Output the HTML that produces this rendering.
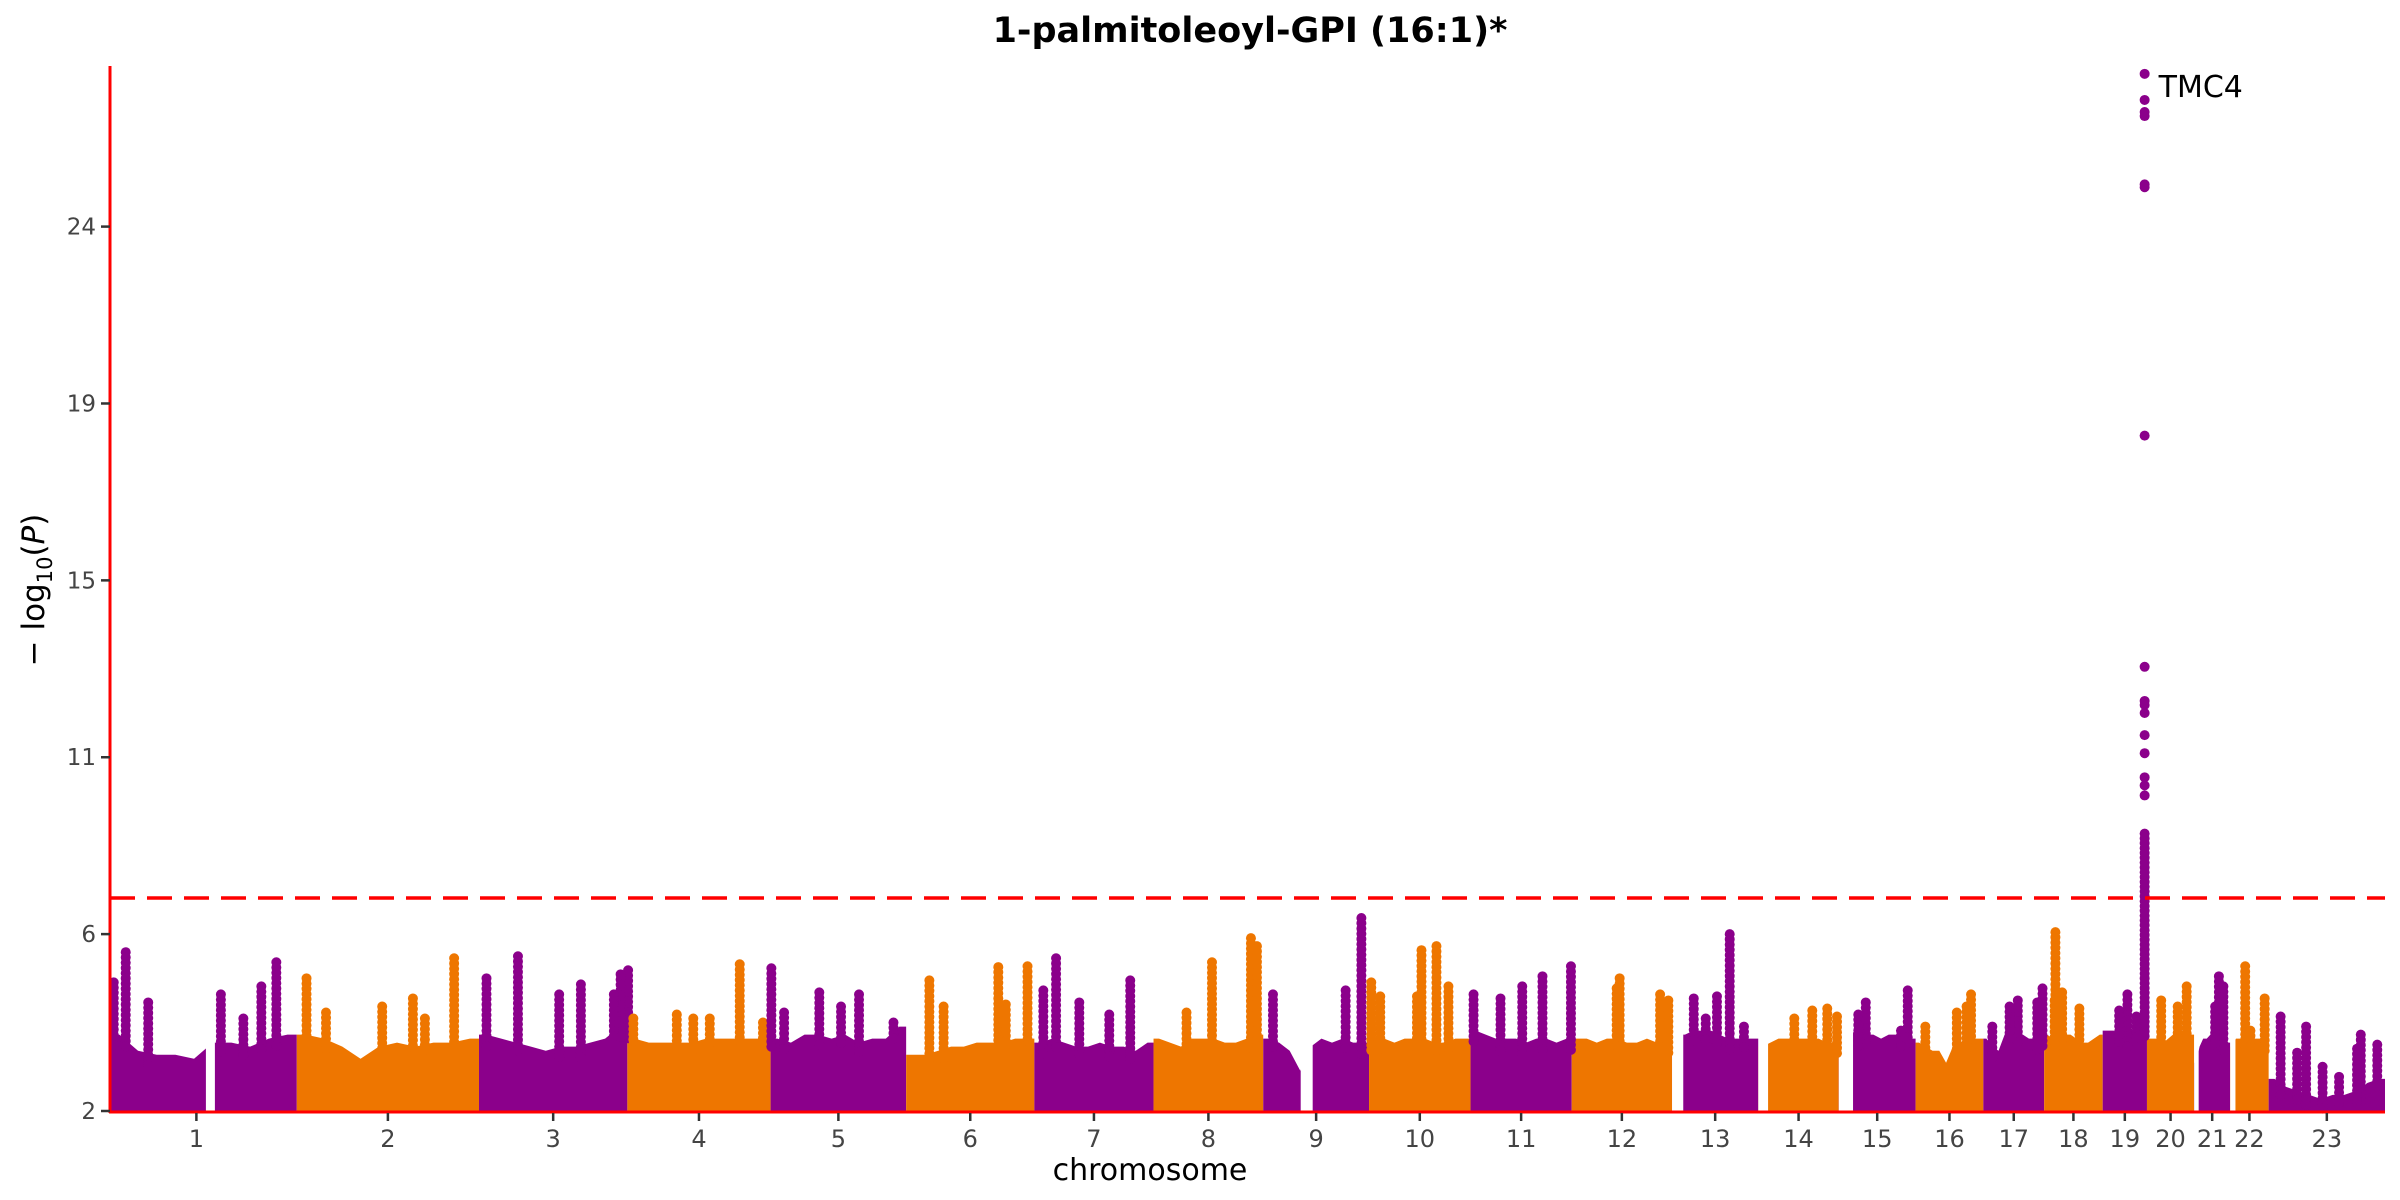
<!DOCTYPE html>
<html><head><meta charset="utf-8"><style>
html,body{margin:0;padding:0;background:#fff;}
svg{display:block;font-family:"DejaVu Sans","Liberation Sans",sans-serif;}
</style></head><body>
<svg id="chart" width="2400" height="1200" viewBox="0 0 2400 1200" xmlns="http://www.w3.org/2000/svg">
<text x="1250" y="42" font-size="35" font-weight="bold" text-anchor="middle" fill="#000">1-palmitoleoyl-GPI (16:1)*</text>
<g id="marks"></g>
<g id="axes"></g>
<text x="1150" y="1180" font-size="30" text-anchor="middle" fill="#000">chromosome</text>
<text transform="translate(44,590) rotate(-90)" font-size="31" text-anchor="middle" fill="#000">− log<tspan font-size="21" dy="8">10</tspan><tspan dy="-8">(</tspan><tspan font-style="italic">P</tspan>)</text>
</svg>
<script>
const chromLabels=["1","2","3","4","5","6","7","8","9","10","11","12","13","14","15","16","17","18","19","20","21","22","23"];
const chromLengths=[249.3,243.2,198.0,191.2,180.9,171.1,159.1,146.4,141.2,135.5,135.0,133.9,115.2,107.4,102.5,90.4,81.2,78.1,59.1,63.0,48.1,51.3,155.3];
const yTicks=[2,6.4,10.8,15.2,19.6,24];
const yTickLabels=["2","6","11","15","19","24"];
const threshold=7.3;
// bulk (dense) top level per chromosome in 10 bins
const bulkLevels=[
[3.9,3.5,3.4,3.4,3.3,3.7,3.7,3.6,3.8,3.9],
[3.9,3.8,3.6,3.3,3.6,3.7,3.6,3.7,3.7,3.8],
[3.9,3.8,3.7,3.6,3.5,3.6,3.6,3.7,3.8,4.1],
[3.8,3.7,3.7,3.7,3.7,3.8,3.8,3.8,3.8,3.8],
[3.8,3.7,3.9,3.9,3.8,3.9,3.7,3.8,3.8,4.1],
[3.4,3.4,3.5,3.6,3.6,3.7,3.7,3.7,3.8,3.8],
[3.7,3.8,3.7,3.6,3.6,3.7,3.6,3.6,3.5,3.7],
[3.8,3.7,3.6,3.8,3.8,3.8,3.7,3.7,3.8,3.9],
[3.8,3.7,3.5,3.0,3.6,3.8,3.7,3.8,3.7,3.7],
[3.8,3.8,3.7,3.8,3.8,3.8,3.7,3.7,3.8,3.8],
[4.0,3.9,3.8,3.8,3.8,3.7,3.8,3.8,3.7,3.8],
[3.8,3.8,3.7,3.8,3.8,3.7,3.7,3.8,3.7,3.7],
[3.9,3.9,4.0,4.0,4.0,3.9,3.8,3.8,3.8,3.8],
[3.6,3.7,3.8,3.8,3.8,3.8,3.8,3.8,3.7,3.7],
[4.0,4.0,3.9,3.9,3.9,3.8,3.9,3.9,3.9,3.8],
[3.7,3.6,3.5,3.5,3.2,3.6,3.7,3.8,3.8,3.8],
[3.8,3.6,3.5,3.9,4.0,4.0,3.9,3.8,3.8,3.9],
[3.9,3.8,3.8,3.9,3.9,3.8,3.7,3.7,3.8,3.9],
[4.0,4.0,4.0,3.9,3.8,3.8,4.0,4.1,4.1,4.1],
[3.8,3.8,3.8,3.7,3.8,3.9,4.0,4.0,4.0,3.9],
[3.2,3.6,3.8,3.8,3.9,3.9,3.8,3.7,3.8,3.7],
[3.6,3.8,3.8,3.8,3.8,3.8,3.8,3.8,3.8,3.7],
[2.8,2.6,2.5,2.4,2.3,2.4,2.4,2.5,2.7,2.8]];
// gaps with no SNPs: [chromIndex, startMb, endMb]
const gapChrom=[0,8,12,13,14,20,21];
const gapStart=[128,50,0,0,0,0,0];
const gapEnd=[140,66,15,13,19,6,7];
// spikes: stacks of dots from bulk up to top value
const spikeChrom=[0,0,0,0,0,0,0, 1,1,1,1,1,1, 2,2,2,2,2,2,2, 3,3,3,3,3,3, 4,4,4,4,4,4, 5,5,5,5,5, 6,6,6,6,6, 7,7,7,7, 8,8,8, 9,9,9,9,9,9, 10,10,10,10,10, 11,11,11,11, 12,12,12,12,12, 13,13,13,13, 14,14,14,14, 15,15,15,15, 16,16,16,16,16, 17,17,17,17, 18,18,18, 19,19,19, 20,20,20, 21,21,21, 22,22,22,22,22,22,22,22];
const spikePos=[21,5,51,148,222,202,178, 13,210,155,114,39,171, 52,10,136,199,189,107,180, 150,66,88,8,181,110, 1,65,118,94,18,164, 31,123,162,50,133, 29,128,12,60,100, 130,138,78,44, 13,131,110, 3,70,90,106,64,15, 96,69,40,4,134, 64,118,60,129, 77,29,60,96,45, 72,92,48,105, 36,92,26,83, 74,68,55,13, 46,79,12,35,72, 15,24,47,14, 33,22,45, 53,19,41, 33,39,28, 20,46,27, 16,50,123,145,72,94,118,38];
const spikeTop=[5.95,5.2,4.7,4.9,5.7,5.1,4.3, 5.3,5.8,4.8,4.6,4.45,4.3, 5.85,5.3,5.15,5.5,5.4,4.9,4.9, 5.65,4.4,4.3,4.3,4.2,4.3, 5.55,4.95,4.9,4.6,4.45,4.2, 5.25,5.58,5.6,4.6,4.65, 5.8,5.25,5.0,4.7,4.4, 6.3,6.1,5.7,4.45, 4.9,6.8,5.0, 5.2,6.0,6.1,5.1,4.85,4.85, 5.35,5.1,4.8,4.9,5.6, 5.3,4.9,5.05,4.75, 6.4,4.8,4.85,4.1,4.3, 4.5,4.55,4.3,4.35, 4.7,5.0,4.4,4.0, 4.9,4.6,4.45,4.1, 4.75,5.05,4.1,4.6,4.7, 6.45,4.95,4.55,4.75, 4.9,4.5,4.35, 5.1,4.75,4.6, 5.35,5.1,4.6, 5.6,4.8,4.0, 4.35,4.1,3.9,3.65,3.1,2.85,3.55,3.45];
// TMC4 locus (chr19)
const leadChrom=18, leadPos=56, leadColumnTop=8.9;
const leadValues=[27.8,27.15,26.85,26.75,25.05,24.98,18.8,13.05,12.2,12.1,11.9,11.35,10.9,10.3,10.1,9.85];
const leadLabel="TMC4";

const NS="http://www.w3.org/2000/svg";
const X0=110,X1=2385,YB=1111,YT=66,YMIN=2,PXU=40.2;
const colors=["#8B008B","#EE7600"];
const total=chromLengths.reduce((a,b)=>a+b,0);
const cumStart=[];let acc=0;chromLengths.forEach(l=>{cumStart.push(acc);acc+=l;});
const xs=(c,p)=>X0+(cumStart[c]+p)/total*(X1-X0);
const ys=v=>YB-(v-YMIN)*PXU;
const marks=document.getElementById('marks'),axes=document.getElementById('axes');
function mk(tag,at,parent){const e=document.createElementNS(NS,tag);for(const k in at)e.setAttribute(k,at[k]);parent.appendChild(e);return e;}
function bulkAt(c,p){const b=bulkLevels[c];const i=Math.min(9,Math.max(0,Math.floor(p/chromLengths[c]*10)));return b[i];}

chromLengths.forEach((len,c)=>{
  const b=bulkLevels[c];const n=b.length;
  let d=`M${xs(c,0)},${YB} L${xs(c,0)},${ys(b[0])}`;
  for(let i=0;i<n;i++){d+=` L${xs(c,(i+0.5)*len/n)},${ys(b[i])}`;}
  d+=` L${xs(c,len)},${ys(b[n-1])} L${xs(c,len)},${YB} Z`;
  const p=mk('path',{d:d,fill:colors[c%2]},marks);
  
  
});
gapChrom.forEach((c,i)=>{
  const r=mk('rect',{x:xs(c,gapStart[i]),y:ys(5),width:xs(c,gapEnd[i])-xs(c,gapStart[i]),height:YB-ys(5),fill:'#fff'},marks);
  
  
});
spikeChrom.forEach((c,i)=>{
  const p=spikePos[i],top=spikeTop[i],base=bulkAt(c,p);
  const g=mk('g',{fill:colors[c%2]},marks);
  
  
  for(let v=top;v>base-0.3;v-=0.13){mk('circle',{cx:xs(c,p),cy:ys(v),r:5},g);}
});
const lg=mk('g',{fill:colors[leadChrom%2]},marks);


for(let v=leadColumnTop;v>bulkAt(leadChrom,leadPos)-0.3;v-=0.12){mk('circle',{cx:xs(leadChrom,leadPos),cy:ys(v),r:5},lg);}
leadValues.forEach(v=>{const ci=mk('circle',{cx:xs(leadChrom,leadPos),cy:ys(v),r:5},lg);
  
  });
const lt=mk('text',{x:xs(leadChrom,leadPos)+14,y:ys(leadValues[0])+23,'font-size':30,fill:'#000'},marks);


lt.textContent=leadLabel;

const th=mk('line',{x1:X0,x2:X1,y1:ys(threshold),y2:ys(threshold),stroke:'#FF0000','stroke-width':3.5,'stroke-dasharray':'25 12'},axes);


const ya=mk('line',{x1:X0,x2:X0,y1:YT,y2:YB+2,stroke:'#FF0000','stroke-width':3},axes);


const xa=mk('line',{x1:X0-1,x2:X1,y1:YB+1,y2:YB+1,stroke:'#FF0000','stroke-width':3},axes);


yTicks.forEach((v,i)=>{
  const t=mk('line',{x1:X0-9,x2:X0,y1:ys(v),y2:ys(v),stroke:'#333','stroke-width':2.5},axes);
  
  
  const l=mk('text',{x:X0-14,y:ys(v)+8,'font-size':23,'text-anchor':'end',fill:'#444'},axes);
  
  
  l.textContent=yTickLabels[i];
});
chromLabels.forEach((lab,c)=>{
  const x=xs(c,chromLengths[c]/2)-(c===0?7:0);
  const t=mk('line',{x1:x,x2:x,y1:YB+2,y2:YB+10,stroke:'#333','stroke-width':2.5},axes);
  
  
  const l=mk('text',{x:x,y:YB+36,'font-size':24,'text-anchor':'middle',fill:'#444'},axes);
  
  
  l.textContent=lab;
});
</script>
</body></html>
